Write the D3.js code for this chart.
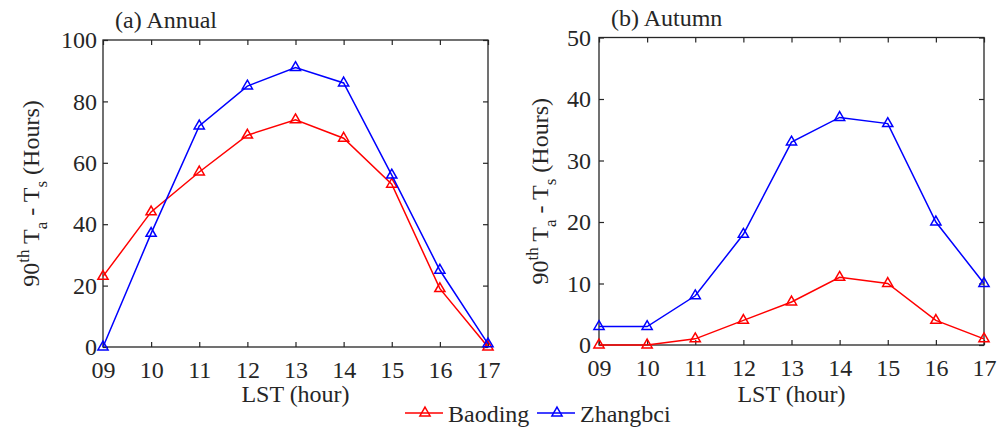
<!DOCTYPE html>
<html>
<head>
<meta charset="utf-8">
<script src="https://cdn.jsdelivr.net/npm/d3@7"></script>
<style>
  body { margin: 0; background: #fff; }
</style>
</head>
<body>
<svg id="chart" width="1005" height="427"></svg>
<script>
// hours on the x axis
const hours = ["09", "10", "11", "12", "13", "14", "15", "16", "17"]

// (a) Annual
const annualBaoding = [23, 44, 57, 69, 74, 68, 53, 19, 0]
const annualZhangbci = [0, 37, 72, 85, 91, 86, 56, 25, 1]

// (b) Autumn
const autumnBaoding = [0, 0, 1, 4, 7, 11, 10, 4, 1]
const autumnZhangbci = [3, 3, 8, 18, 33, 37, 36, 20, 10]

const annualTicks = [0, 20, 40, 60, 80, 100]
const autumnTicks = [0, 10, 20, 30, 40, 50]

const seriesNames = ["Baoding", "Zhangbci"]
const colors = ["#ff0000", "#0000ff"]

const FONT = "Liberation Serif"
const INK = "#262626"

let svg = d3.select("#chart")
  .attr("font-family", FONT)
  .attr("font-size", 24)

let tri = d3.symbol().type(d3.symbolTriangle).size(45)

function drawPanel(box, title, yMax, yTicks, lines) {
  let x = d3.scalePoint()
    .domain(hours)
    .range([box.left, box.right])

  let y = d3.scaleLinear()
    .domain([0, yMax])
    .range([box.bottom, box.top])

  let g = svg.append("g")

  // frame
  g.append("rect")
    .attr("x", box.left)
    .attr("y", box.top)
    .attr("width", box.right - box.left)
    .attr("height", box.bottom - box.top)
    .attr("fill", "none")
    .attr("stroke", INK)
    .attr("stroke-width", 1.3)

  let xAxis = d3.axisBottom(x).tickSizeInner(-5).tickSizeOuter(0).tickPadding(14)
  let xTop = d3.axisTop(x).tickSizeInner(-5).tickSizeOuter(0).tickFormat("")
  let yAxis = d3.axisLeft(y).tickValues(yTicks).tickSizeInner(-5).tickSizeOuter(0).tickPadding(box.pad)
  let yRight = d3.axisRight(y).tickValues(yTicks).tickSizeInner(-5).tickSizeOuter(0).tickFormat("")

  function styleAxis(sel) {
    sel.attr("font-family", FONT).attr("font-size", 24)
    sel.select(".domain").remove()
    sel.selectAll("line").attr("stroke", INK).attr("stroke-width", 1.2)
    sel.selectAll("text").attr("fill", INK)
  }

  g.append("g").attr("transform", "translate(0," + box.bottom + ")").call(xAxis).call(styleAxis)
  g.append("g").attr("transform", "translate(0," + box.top + ")").call(xTop).call(styleAxis)
  g.append("g").attr("transform", "translate(" + box.left + ",0)").call(yAxis).call(styleAxis)
  g.append("g").attr("transform", "translate(" + box.right + ",0)").call(yRight).call(styleAxis)

  let line = d3.line()
    .x(function(d, i) { return x(hours[i]) })
    .y(function(d) { return y(d) })

  lines.forEach(function(vals, k) {
    g.append("path")
      .datum(vals)
      .attr("d", line)
      .attr("fill", "none")
      .attr("stroke", colors[k])
      .attr("stroke-width", 1.5)

    g.selectAll(".m" + k)
      .data(vals)
      .enter()
      .append("path")
      .attr("d", tri)
      .attr("transform", function(d, i) {
        return "translate(" + x(hours[i]) + "," + y(d) + ")"
      })
      .attr("fill", "none")
      .attr("stroke", colors[k])
      .attr("stroke-width", 1.5)
  })

  // title
  g.append("text")
    .attr("x", box.left + 12)
    .attr("y", box.top - 12)
    .attr("fill", INK)
    .text(title)

  // x label
  g.append("text")
    .attr("x", (box.left + box.right) / 2)
    .attr("y", 402)
    .attr("text-anchor", "middle")
    .attr("fill", INK)
    .text("LST (hour)")

  // y label
  let yl = g.append("text")
    .attr("transform", "translate(" + box.ylab + "," + ((box.top + box.bottom) / 2) + ") rotate(-90)")
    .attr("text-anchor", "middle")
    .attr("fill", INK)
  yl.append("tspan").text("90")
  yl.append("tspan").attr("dy", -10).attr("font-size", 17).text("th")
  yl.append("tspan").attr("dy", 10).text(" T")
  yl.append("tspan").attr("dy", 8).attr("font-size", 17).text("a")
  yl.append("tspan").attr("dy", -8).text(" - T")
  yl.append("tspan").attr("dy", 8).attr("font-size", 17).text("s")
  yl.append("tspan").attr("dy", -8).text(" (Hours)")
}

drawPanel({ left: 103, right: 488, top: 40, bottom: 347, pad: 6, ylab: 39 }, "(a) Annual", 100, annualTicks,
  [annualBaoding, annualZhangbci])
drawPanel({ left: 599, right: 984, top: 37.5, bottom: 345, pad: 8, ylab: 548 }, "(b) Autumn", 50, autumnTicks,
  [autumnBaoding, autumnZhangbci])

// legend
let legX = [405, 537]
seriesNames.forEach(function(name, k) {
  let lg = svg.append("g").attr("transform", "translate(" + legX[k] + ",413)")
  lg.append("line")
    .attr("x1", 0).attr("x2", 38)
    .attr("stroke", colors[k]).attr("stroke-width", 1.5)
  lg.append("path")
    .attr("d", tri)
    .attr("transform", "translate(20,0)")
    .attr("fill", "none")
    .attr("stroke", colors[k])
    .attr("stroke-width", 1.5)
  lg.append("text")
    .attr("x", 43)
    .attr("y", 9)
    .attr("fill", INK)
    .text(name)
})
</script>
</body>
</html>
